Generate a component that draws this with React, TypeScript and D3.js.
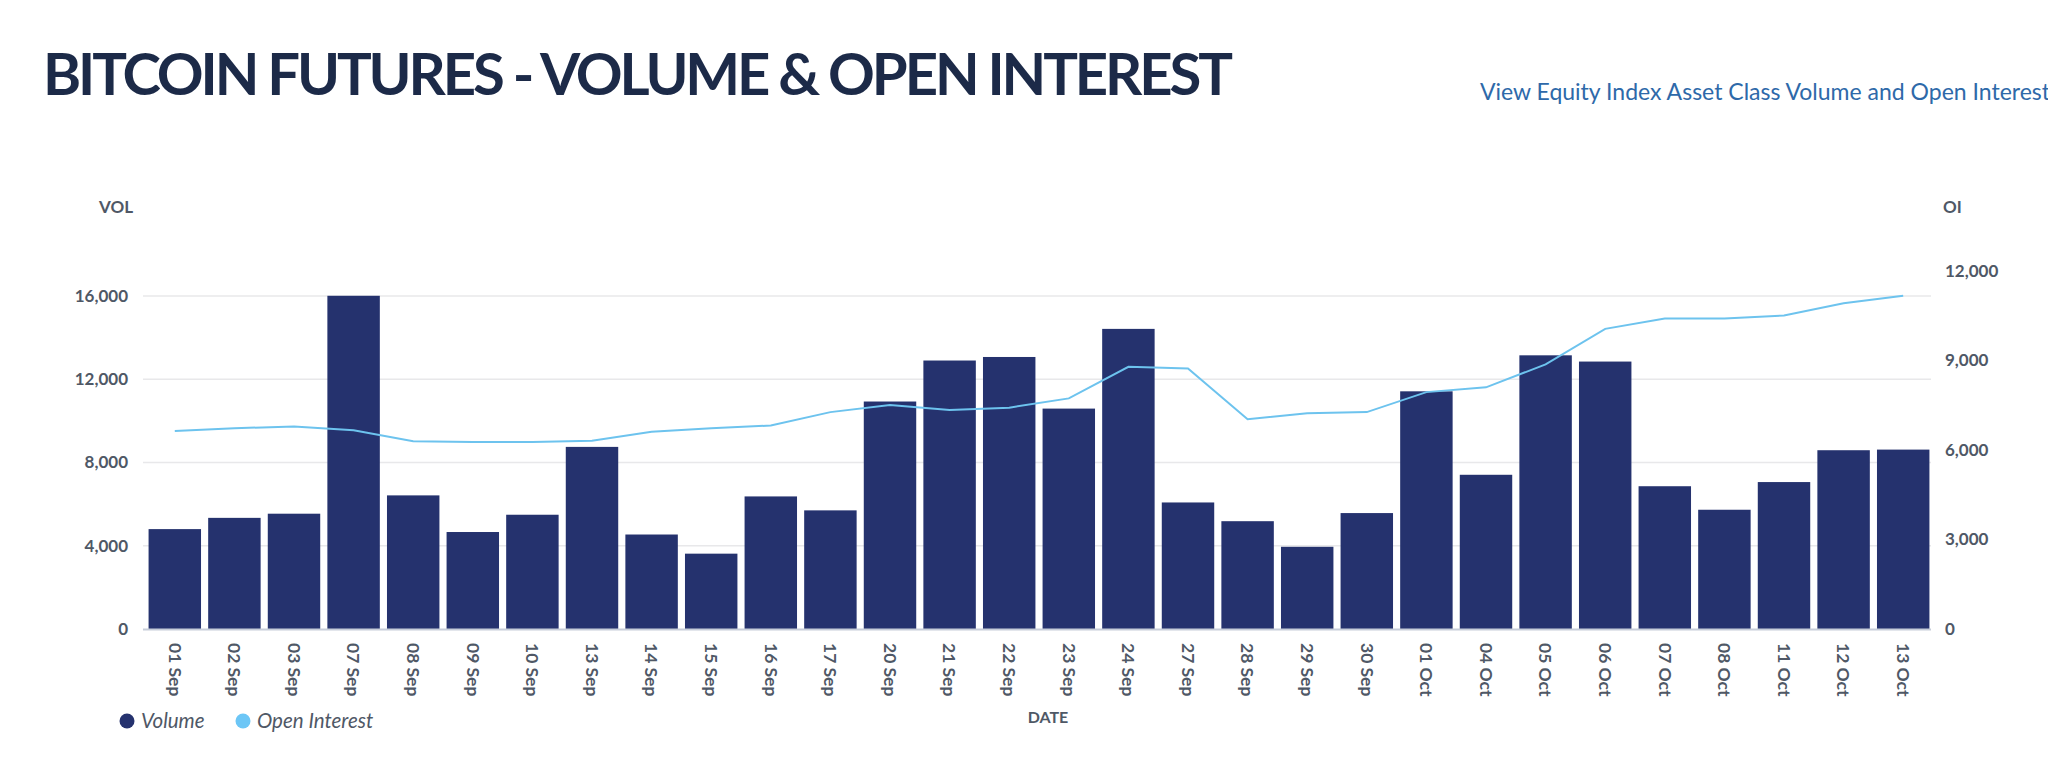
import React, { useEffect, useRef } from 'react';
import * as d3 from 'd3';

const dates = [
  '01 Sep', '02 Sep', '03 Sep', '07 Sep', '08 Sep', '09 Sep', '10 Sep', '13 Sep', '14 Sep', '15 Sep',
  '16 Sep', '17 Sep', '20 Sep', '21 Sep', '22 Sep', '23 Sep', '24 Sep', '27 Sep', '28 Sep', '29 Sep',
  '30 Sep', '01 Oct', '04 Oct', '05 Oct', '06 Oct', '07 Oct', '08 Oct', '11 Oct', '12 Oct', '13 Oct',
];

const volume = [
  4800, 5340, 5540, 16010, 6420, 4660, 5490, 8750, 4540, 3620,
  6370, 5700, 10930, 12900, 13070, 10590, 14420, 6080, 5180, 3950,
  5570, 11420, 7410, 13150, 12850, 6860, 5730, 7060, 8590, 8620,
];

const openInterest = [
  6640, 6730, 6790, 6660, 6290, 6270, 6270, 6310, 6610, 6730,
  6820, 7270, 7510, 7340, 7420, 7730, 8790, 8730, 7030, 7230,
  7270, 7940, 8100, 8870, 10060, 10410, 10410, 10510, 10920, 11170,
];

const volTicks = [0, 4000, 8000, 12000, 16000];
const oiTicks = [0, 3000, 6000, 9000, 12000];

const BAR = '#25326e';
const LINE = '#6dc3ee';
const TEXT = '#4f5866';
const FONT = 'Lato, "Open Sans", sans-serif';

export default function App() {
  const ref = useRef<SVGSVGElement>(null);

  useEffect(() => {
    if (!ref.current) return;
    const svg = d3.select(ref.current);
    svg.selectAll('*').remove();

    const left = 145;
    const right = 1933;
    const bottom = 629;

    const x = d3.scaleBand<string>().domain(dates).range([left, right]).paddingInner(0.12).paddingOuter(0.06);
    const yVol = d3.scaleLinear().domain([0, 16000]).range([bottom, 296]);
    const yOi = d3.scaleLinear().domain([0, 12000]).range([bottom, 271]);
    const fmt = d3.format(',');

    // title + link
    svg.append('text')
      .attr('x', 43).attr('y', 95)
      .attr('font-family', FONT).attr('font-weight', 700).attr('font-size', 58)
      .attr('fill', '#1c2a48')
      .attr('textLength', 1190).attr('lengthAdjust', 'spacing')
      .text('BITCOIN FUTURES - VOLUME & OPEN INTEREST');

    svg.append('text')
      .attr('x', 1480).attr('y', 100)
      .attr('font-family', FONT).attr('font-size', 23)
      .attr('fill', '#2e69a9')
      .text('View Equity Index Asset Class Volume and Open Interest');

    // grid lines
    svg.append('g')
      .selectAll('line')
      .data(volTicks.filter(t => t > 0))
      .join('line')
      .attr('x1', left - 2).attr('x2', right - 2)
      .attr('y1', d => yVol(d)).attr('y2', d => yVol(d))
      .attr('stroke', '#e8e8ea').attr('stroke-width', 1.5);

    // left ticks
    svg.append('g')
      .selectAll('text')
      .data(volTicks)
      .join('text')
      .attr('x', 128).attr('y', d => yVol(d))
      .attr('dy', '0.35em').attr('text-anchor', 'end')
      .attr('font-family', FONT).attr('font-weight', 700).attr('font-size', 17)
      .attr('fill', TEXT)
      .text(d => fmt(d));

    // right ticks
    svg.append('g')
      .selectAll('text')
      .data(oiTicks)
      .join('text')
      .attr('x', 1945).attr('y', d => yOi(d))
      .attr('dy', '0.35em')
      .attr('font-family', FONT).attr('font-weight', 700).attr('font-size', 17)
      .attr('fill', TEXT)
      .text(d => fmt(d));

    svg.append('text')
      .attr('x', 99).attr('y', 207).attr('dy', '0.35em')
      .attr('font-family', FONT).attr('font-weight', 700).attr('font-size', 17)
      .attr('fill', TEXT).text('VOL');
    svg.append('text')
      .attr('x', 1943).attr('y', 207).attr('dy', '0.35em')
      .attr('font-family', FONT).attr('font-weight', 700).attr('font-size', 17)
      .attr('fill', TEXT).text('OI');

    // bars
    svg.append('g')
      .selectAll('rect')
      .data(dates)
      .join('rect')
      .attr('x', d => x(d)!)
      .attr('y', (d, i) => yVol(volume[i]))
      .attr('width', x.bandwidth())
      .attr('height', (d, i) => bottom - yVol(volume[i]))
      .attr('fill', BAR);

    // baseline
    svg.append('line')
      .attr('x1', left - 2).attr('x2', right - 2)
      .attr('y1', bottom + 0.5).attr('y2', bottom + 0.5)
      .attr('stroke', '#c7cdd9').attr('stroke-width', 2);

    // open interest line
    const line = d3.line<number>()
      .x((d, i) => x(dates[i])! + x.bandwidth() / 2)
      .y(d => yOi(d));
    svg.append('path')
      .attr('d', line(openInterest))
      .attr('fill', 'none')
      .attr('stroke', LINE)
      .attr('stroke-width', 2);

    // x labels
    svg.append('g')
      .selectAll('text')
      .data(dates)
      .join('text')
      .attr('transform', d => `translate(${x(d)! + x.bandwidth() / 2},643) rotate(90)`)
      .attr('dy', '0.35em')
      .attr('font-family', FONT).attr('font-weight', 700).attr('font-size', 17.5)
      .attr('fill', TEXT)
      .text(d => d);

    svg.append('text')
      .attr('x', 1048).attr('y', 717).attr('dy', '0.35em')
      .attr('text-anchor', 'middle')
      .attr('font-family', FONT).attr('font-weight', 700).attr('font-size', 16)
      .attr('fill', TEXT).text('DATE');

    // legend
    const legend = [
      { label: 'Volume', color: BAR, x: 127 },
      { label: 'Open Interest', color: '#6cc6f6', x: 243 },
    ];
    const lg = svg.append('g');
    legend.forEach(l => {
      lg.append('circle').attr('cx', l.x).attr('cy', 721).attr('r', 7.5).attr('fill', l.color);
      lg.append('text')
        .attr('x', l.x + 14).attr('y', 721).attr('dy', '0.35em')
        .attr('font-family', FONT).attr('font-style', 'italic').attr('font-size', 20.5)
        .attr('fill', TEXT).text(l.label);
    });
  }, []);

  return (
    <svg
      ref={ref}
      width={2048}
      height={777}
      style={{ position: 'absolute', left: 0, top: 0, background: '#fff', display: 'block' }}
    />
  );
}
